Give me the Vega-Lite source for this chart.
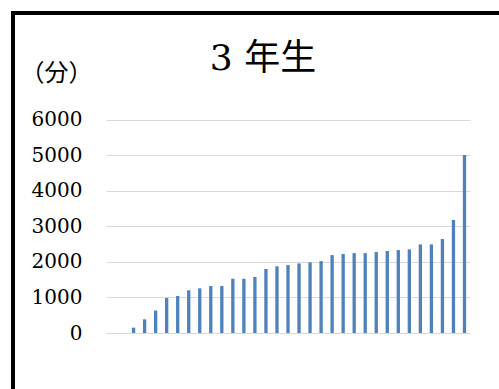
{
  "$schema": "https://vega.github.io/schema/vega-lite/v6.json",
  "autosize": {"type": "none"},
  "padding": {"left": 13, "top": 13, "right": 0, "bottom": 0},
  "width": 500,
  "height": 390,
  "background": "white",
  "title": {
    "text": "3 年生",
    "font": "DejaVu Serif, Noto Sans CJK JP",
    "fontSize": 36,
    "fontWeight": "normal",
    "color": "black",
    "anchor": "middle",
    "frame": "group",
    "baseline": "alphabetic",
    "offset": -93
  },
  "data": {
    "values": [
      {"n": 1, "v": null}, {"n": 2, "v": null},
      {"n": 3, "v": 150}, {"n": 4, "v": 385}, {"n": 5, "v": 630}, {"n": 6, "v": 985},
      {"n": 7, "v": 1040}, {"n": 8, "v": 1200}, {"n": 9, "v": 1255}, {"n": 10, "v": 1320},
      {"n": 11, "v": 1320}, {"n": 12, "v": 1525}, {"n": 13, "v": 1525}, {"n": 14, "v": 1575},
      {"n": 15, "v": 1800}, {"n": 16, "v": 1875}, {"n": 17, "v": 1910}, {"n": 18, "v": 1955},
      {"n": 19, "v": 1985}, {"n": 20, "v": 2020}, {"n": 21, "v": 2190}, {"n": 22, "v": 2220},
      {"n": 23, "v": 2245}, {"n": 24, "v": 2245}, {"n": 25, "v": 2275}, {"n": 26, "v": 2305},
      {"n": 27, "v": 2330}, {"n": 28, "v": 2350}, {"n": 29, "v": 2490}, {"n": 30, "v": 2490},
      {"n": 31, "v": 2640}, {"n": 32, "v": 3175}, {"n": 33, "v": 5000}
    ]
  },
  "mark": {"type": "bar", "color": "#4f81bd"},
  "encoding": {
    "x": {
      "field": "n",
      "type": "ordinal",
      "scale": {
        "domain": [1,2,3,4,5,6,7,8,9,10,11,12,13,14,15,16,17,18,19,20,21,22,23,24,25,26,27,28,29,30,31,32,33],
        "range": [93, 457],
        "paddingInner": 0.7,
        "paddingOuter": 0.35
      },
      "axis": null
    },
    "y": {
      "field": "v",
      "type": "quantitative",
      "scale": {"domain": [0, 6000], "range": [320, 106.5], "nice": false, "zero": true},
      "axis": {
        "title": "（分）",
        "titleAngle": 0,
        "titleFont": "Noto Sans CJK JP",
        "titleFontSize": 24,
        "titleFontWeight": "normal",
        "titleColor": "black",
        "titleAlign": "center",
        "titleBaseline": "middle",
        "titleX": -29,
        "titleY": 60,
        "values": [0, 1000, 2000, 3000, 4000, 5000, 6000],
        "format": "d",
        "offset": -72,
        "labelPadding": 3,
        "labelFont": "DejaVu Serif",
        "labelFontSize": 20,
        "labelColor": "black",
        "ticks": false,
        "domain": false,
        "grid": true,
        "gridColor": "#d9d9d9",
        "gridWidth": 1.2
      }
    }
  },
  "config": {
    "view": {"stroke": "black", "strokeWidth": 4}
  }
}
